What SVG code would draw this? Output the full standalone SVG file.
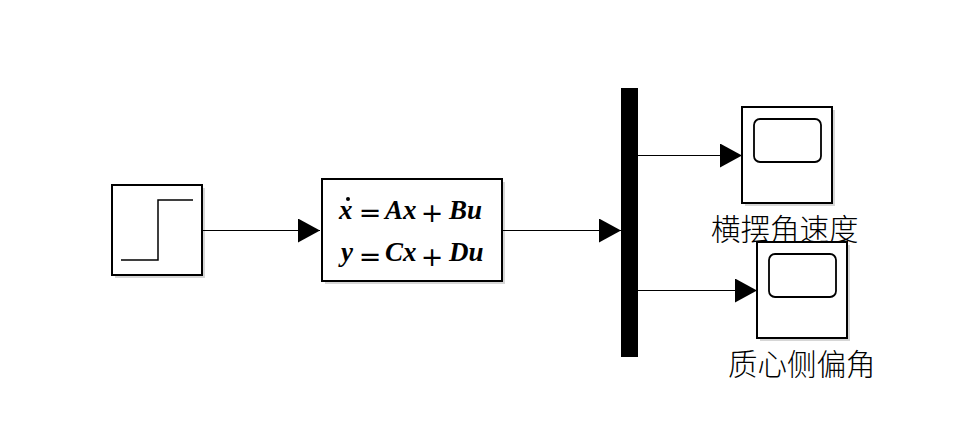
<svg xmlns="http://www.w3.org/2000/svg" width="968" height="433" viewBox="0 0 968 433">
<style>
.blk{fill:#fff;stroke:#000;stroke-width:2}
.shd{fill:#bbb;opacity:0.6}
.wire{stroke:#000;stroke-width:1.1;fill:none}
.eq{font-family:"Liberation Serif","DejaVu Serif",serif;font-size:27px;font-weight:bold;font-style:italic}
.op{font-family:"DejaVu Sans",sans-serif;font-size:27px;font-weight:normal;text-anchor:middle}
.lbl{font-family:"Noto Sans CJK SC","Noto Sans",sans-serif;font-size:29.5px;font-weight:300}
</style>
<defs>
<marker id="ah" markerWidth="22" markerHeight="24" refX="22" refY="12" orient="auto" markerUnits="userSpaceOnUse">
<path d="M0,0 L22,12 L0,24 Z" fill="#000"/>
</marker>
</defs>
<rect width="968" height="433" fill="#fff"/>
<g id="step">
<rect class="shd" x="115" y="188" width="90" height="90"/>
<rect class="blk" x="112" y="185" width="90" height="90"/>
<polyline points="121,260 158,260 158,200 193,200" fill="none" stroke="#000" stroke-width="1.5"/>
</g>
<g id="statespace">
<rect class="shd" x="325" y="182" width="180" height="102"/>
<rect class="blk" x="322" y="179" width="180" height="102"/>
<text class="eq" x="339" y="219">x</text>
<circle cx="348" cy="199" r="2" fill="#000"/>
<text class="op" x="370" y="222">=</text>
<text class="eq" x="385" y="219">Ax</text>
<text class="op" x="432" y="222">+</text>
<text class="eq" x="449" y="219">Bu</text>
<text class="eq" x="341" y="261">y</text>
<text class="op" x="370" y="266">=</text>
<text class="eq" x="385" y="261">Cx</text>
<text class="op" x="432" y="266">+</text>
<text class="eq" x="449" y="261">Du</text>
</g>
<g id="mux">
<rect x="621" y="88" width="17" height="269" fill="#000"/>
</g>
<g id="scope1">
<rect class="shd" x="745" y="110" width="90" height="96"/>
<rect class="blk" x="742" y="107" width="90" height="96"/>
<rect x="754" y="119" width="67" height="43" rx="6" fill="none" stroke="#000" stroke-width="1.8"/>
<text class="lbl" x="711" y="240">横摆角速度</text>
</g>
<g id="scope2">
<rect class="shd" x="760" y="245" width="90" height="96"/>
<rect class="blk" x="757" y="242" width="90" height="96"/>
<rect x="769" y="254" width="67" height="43" rx="6" fill="none" stroke="#000" stroke-width="1.8"/>
<text class="lbl" x="728" y="375">质心侧偏角</text>
</g>
<g id="connectors">
<line class="wire" x1="202" y1="230.5" x2="320" y2="230.5" marker-end="url(#ah)"/>
<line class="wire" x1="502" y1="230.5" x2="621" y2="230.5" marker-end="url(#ah)"/>
<line class="wire" x1="638" y1="155.5" x2="742" y2="155.5" marker-end="url(#ah)"/>
<line class="wire" x1="638" y1="290.5" x2="757" y2="290.5" marker-end="url(#ah)"/>
</g>
</svg>
